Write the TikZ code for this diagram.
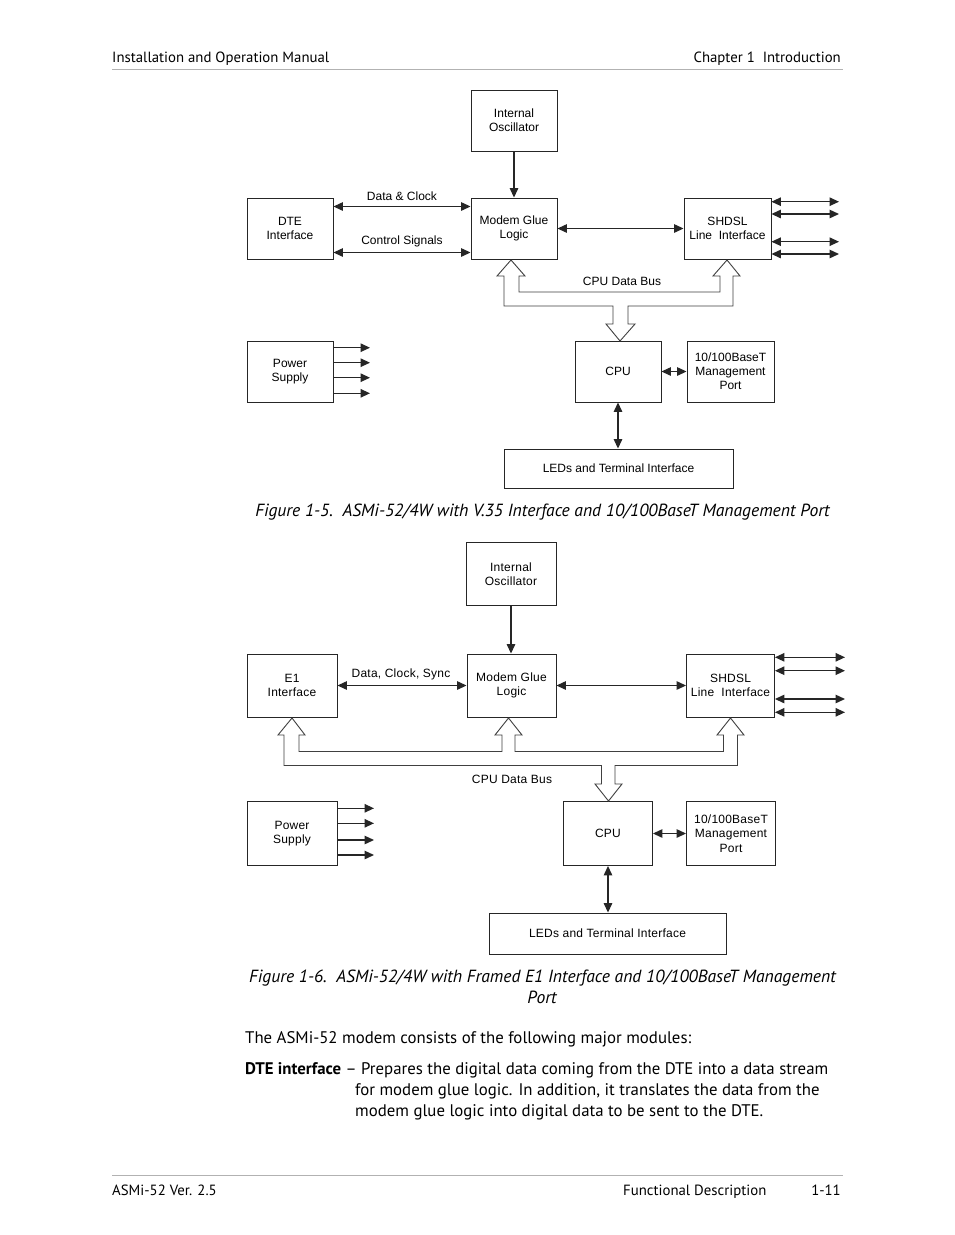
\documentclass[tikz,border=0pt]{standalone}
\usepackage{fontspec}
\setmainfont{PT Sans}
\newfontfamily\arial{Liberation Sans}
\newfontfamily\arialsp[LetterSpace=2]{Liberation Sans}
\usetikzlibrary{arrows.meta}
\begin{document}
\begin{tikzpicture}[x=1pt,y=-1pt,
  box/.style={draw=black!85, line width=0.9pt, fill=white, inner sep=0pt, align=center,
    font=\arial\fontsize{12}{14}\selectfont},
  boxb/.style={box, font=\arialsp\fontsize{12}{14.5}\selectfont},
  lbl/.style={inner sep=0pt, font=\arial\fontsize{12}{14}\selectfont},
  lblb/.style={inner sep=0pt, font=\arialsp\fontsize{12}{14}\selectfont},
  arr/.style={line width=1.3pt, draw=black!85, -{Triangle[length=9.5pt,width=8.5pt]}},
  dbl/.style={line width=1.3pt, draw=black!85, {Triangle[length=9.5pt,width=8.5pt]}-{Triangle[length=9.5pt,width=8.5pt]}},
  bus/.style={draw=black!75, line width=0.9pt, fill=white, line join=miter},
  rule/.style={draw=black!30, line width=0.8pt},
  hdr/.style={inner sep=0pt, font=\fontsize{14.8}{17}\selectfont},
  figcap/.style={inner sep=0pt, font=\itshape\fontsize{17.6}{21}\selectfont},
  body/.style={inner sep=0pt, font=\fontsize{16.8}{21}\selectfont}]
\useasboundingbox (0,0) rectangle (954,1235);
\fill[white] (0,0) rectangle (954,1235);

% header / footer
\draw[rule] (112,69) -- (843,69);
\node[hdr, anchor=base west] (h1) at (112,62) {Installation and Operation Manual};
\node[hdr, anchor=base east] (h2) at (841,62) {Chapter 1\ \ Introduction};
\draw[rule] (112,1175) -- (843,1175);
\node[hdr, anchor=base west] (f1) at (112,1195) {ASMi-52 Ver. 2.5};
\node[hdr, anchor=base west] (f2) at (623,1195) {Functional Description};
\node[hdr, anchor=base east] (f3) at (841,1195) {1-11};

% ===== Figure 1-5 =====
\node[box, minimum width=86, minimum height=61] (osc1) at (514,120.5) {Internal\\Oscillator};
\node[box, minimum width=86, minimum height=61] (dte1) at (290,228.5) {DTE\\Interface};
\node[box, minimum width=86, minimum height=61] (glue1) at (514,228.5) {Modem Glue\\Logic};
\node[box, minimum width=87, minimum height=61] (shd1) at (727.5,228.5) {SHDSL\\Line\ \ Interface};
\node[box, minimum width=86, minimum height=61] (pwr1) at (290,371.5) {Power\\Supply};
\node[box, minimum width=86, minimum height=61] (cpu1) at (618,371.5) {CPU};
\node[box, minimum width=87, minimum height=61] (mgt1) at (730.5,371.5) {10/100BaseT\\Management\\Port};
\node[box, minimum width=229, minimum height=39] (led1) at (618.5,468.5) {LEDs and Terminal Interface};

\draw[arr] (osc1) -- (glue1);
\draw[dbl] ([yshift=22pt]dte1.east) -- ([yshift=22pt]glue1.west);
\node[lbl] (dc1) at (402,196) {Data \& Clock};
\draw[dbl] ([yshift=-24pt]dte1.east) -- ([yshift=-24pt]glue1.west);
\node[lbl] (cs1) at (402,241) {Control Signals};
\draw[dbl] (glue1) -- (shd1);
\coordinate (r11) at (839,201.7);
\coordinate (r12) at (839,214);
\coordinate (r13) at (839,241.7);
\coordinate (r14) at (839,254);
\foreach \r in {r11,r12,r13,r14} \draw[dbl] (shd1.east |- \r) -- (\r);
\coordinate (p11) at (370,347.7);
\coordinate (p12) at (370,362.7);
\coordinate (p13) at (370,377.7);
\coordinate (p14) at (370,393.3);
\foreach \p in {p11,p12,p13,p14} \draw[arr] (pwr1.east |- \p) -- (\p);
\draw[dbl] (cpu1) -- (mgt1);
\draw[dbl] (cpu1.south) -- (cpu1.south |- led1.north);

\draw[bus] (511,260) -- (525,276) -- (519,276) -- (519,292) -- (720,292) -- (720,276)
  -- (713,276) -- (727,260) -- (740,276) -- (733,276) -- (733,306) -- (628,306)
  -- (628,324) -- (635,324) -- (620,341) -- (606,324) -- (613,324) -- (613,306)
  -- (504,306) -- (504,276) -- (497,276) -- cycle;
\node[lbl] (bus1) at (622,281) {CPU Data Bus};

\node[figcap, anchor=base] (cap1) at (542.5,516) {Figure 1-5.\ \ ASMi-52/4W with V.35 Interface and 10/100BaseT Management Port};

% ===== Figure 1-6 =====
\node[boxb, minimum width=90, minimum height=63] (osc2) at (511,574) {Internal\\Oscillator};
\node[boxb, minimum width=90, minimum height=63] (e12) at (292,685.5) {E1\\Interface};
\node[boxb, minimum width=89, minimum height=63] (glue2) at (511.5,685.5) {Modem Glue\\Logic};
\node[boxb, minimum width=88, minimum height=63] (shd2) at (730.5,685.5) {SHDSL\\Line\ \ Interface};
\node[boxb, minimum width=90, minimum height=64] (pwr2) at (292,833.5) {Power\\Supply};
\node[boxb, minimum width=89, minimum height=64] (cpu2) at (608,833.5) {CPU};
\node[boxb, minimum width=89, minimum height=64] (mgt2) at (731,833.5) {10/100BaseT\\Management\\Port};
\node[boxb, minimum width=237, minimum height=41] (led2) at (607.5,933.5) {LEDs and Terminal Interface};

\draw[arr] (osc2.south) -- (osc2.south |- glue2.north);
\draw[dbl] (e12) -- (glue2);
\node[lblb] (dcs2) at (401,674) {Data, Clock, Sync};
\draw[dbl] (glue2) -- (shd2);
\coordinate (r21) at (845,657.3);
\coordinate (r22) at (845,670.7);
\coordinate (r23) at (845,699);
\coordinate (r24) at (845,712.3);
\foreach \r in {r21,r22,r23,r24} \draw[dbl] (shd2.east |- \r) -- (\r);
\coordinate (p21) at (374,808.3);
\coordinate (p22) at (374,823.3);
\coordinate (p23) at (374,840);
\coordinate (p24) at (374,855);
\foreach \p in {p21,p22,p23,p24} \draw[arr] (pwr2.east |- \p) -- (\p);
\draw[dbl] (cpu2) -- (mgt2);
\draw[dbl] (cpu2.south) -- (cpu2.south |- led2.north);

\draw[bus] (292,718) -- (305,735) -- (299,735) -- (299,751.5) -- (502,751.5) -- (502,735)
  -- (495,735) -- (508.5,718) -- (522,735) -- (515,735) -- (515,751.5) -- (723.5,751.5)
  -- (723.5,735) -- (717,735) -- (730.5,718) -- (744,735) -- (737.5,735) -- (737.5,765.5)
  -- (615,765.5) -- (615,784) -- (622,784) -- (608.5,801) -- (595,784) -- (601.5,784)
  -- (601.5,765.5) -- (284,765.5) -- (284,735) -- (278,735) -- cycle;
\node[lblb] (bus2) at (512,779) {CPU Data Bus};

\node[figcap, anchor=base] (cap2a) at (542.5,982) {Figure 1-6.\ \ ASMi-52/4W with Framed E1 Interface and 10/100BaseT Management};
\node[figcap, anchor=base] (cap2b) at (542,1003) {Port};

% ===== body text =====
\node[body, anchor=base west] (t1) at (245,1043) {The ASMi-52 modem consists of the following major modules:};
\node[body, anchor=base west] (t2) at (245,1074) {\bfseries DTE interface\mdseries\ -- Prepares the digital data coming from the DTE into a data stream};
\node[body, anchor=base west] (t3) at (355,1095) {for modem glue logic. In addition, it translates the data from the};
\node[body, anchor=base west] (t4) at (355,1116) {modem glue logic into digital data to be sent to the DTE.};
\end{tikzpicture}
\end{document}
